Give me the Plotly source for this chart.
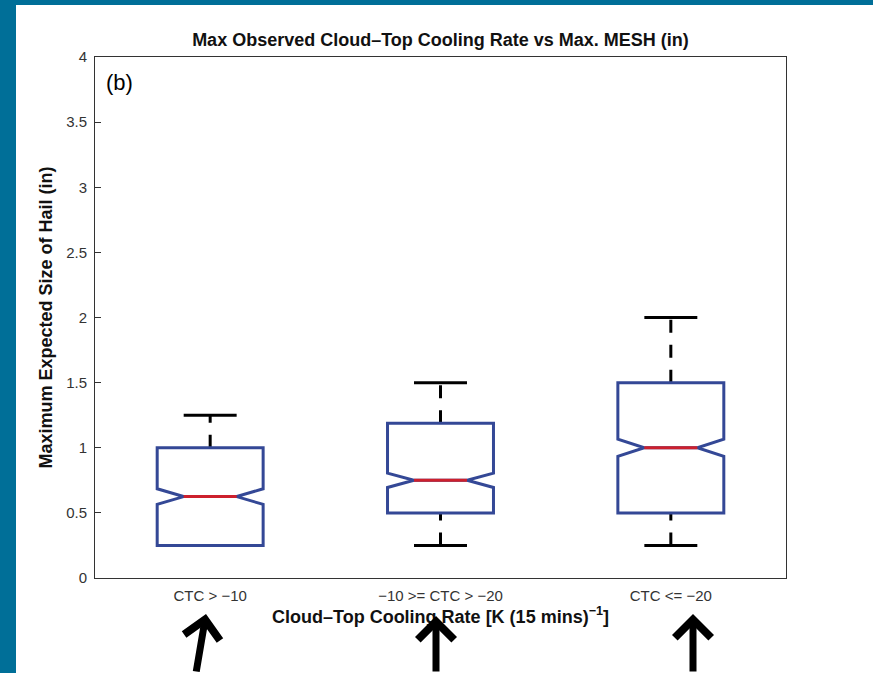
import plotly.graph_objects as go

# ---- data ----
categories = ["CTC > \u221210", "\u221210 >= CTC > \u221220", "CTC <= \u221220"]
positions = [1, 2, 3]
q1 = [0.25, 0.5, 0.5]
median = [0.625, 0.75, 1.0]
q3 = [1.0, 1.1875, 1.5]
lower_whisker = [0.25, 0.25, 0.25]
upper_whisker = [1.25, 1.5, 2.0]
notch_span = [0.06, 0.055, 0.066]
y_ticks = [0, 0.5, 1, 1.5, 2, 2.5, 3, 3.5, 4]

# ---- styling ----
BOX_BLUE = "rgb(52,72,150)"
MED_RED = "rgb(205,32,45)"
TEAL = "rgb(0,111,152)"
BOX_W = 0.46
CAP_HALF = BOX_W / 4
INNER_HALF = BOX_W / 4
FONT = "Liberation Sans, Arial, Helvetica, sans-serif"

fig = go.Figure()

# whiskers (dashed) -- drawn first (under the boxes)
wx, wy = [], []
for p, lo, a, b, hi in zip(positions, lower_whisker, q1, q3, upper_whisker):
    wx += [p, p, None, p, p, None]
    wy += [b, hi, None, lo, a, None]
fig.add_trace(go.Scatter(x=wx, y=wy, mode="lines", hoverinfo="skip",
                         line=dict(color="black", width=3, dash="13px,12px"),
                         showlegend=False, xaxis="x", yaxis="y"))

# whisker caps
cx, cy = [], []
for p, lo, hi in zip(positions, lower_whisker, upper_whisker):
    cx += [p - CAP_HALF, p + CAP_HALF, None, p - CAP_HALF, p + CAP_HALF, None]
    cy += [hi, hi, None, lo, lo, None]
fig.add_trace(go.Scatter(x=cx, y=cy, mode="lines", hoverinfo="skip",
                         line=dict(color="black", width=3),
                         showlegend=False, xaxis="x", yaxis="y"))

# notched boxes (on overlay axes so they sit above the whiskers)
fig.add_trace(go.Box(
    x=positions, q1=q1, median=median, q3=q3,
    lowerfence=q1, upperfence=q3, notchspan=notch_span,
    notched=True, notchwidth=0.25, width=BOX_W, whiskerwidth=0,
    fillcolor="rgba(0,0,0,0)", line=dict(color=BOX_BLUE, width=3),
    showlegend=False, xaxis="x2", yaxis="y2", hoverinfo="skip"))

# red median lines
mx, my = [], []
for p, m in zip(positions, median):
    mx += [p - INNER_HALF, p + INNER_HALF, None]
    my += [m, m, None]
fig.add_trace(go.Scatter(x=mx, y=my, mode="lines", hoverinfo="skip",
                         line=dict(color=MED_RED, width=3),
                         showlegend=False, xaxis="x2", yaxis="y2"))

L, R, T, B = 95, 87, 57, 95
W, H = 873, 673
pw, ph = W - L - R, H - T - B

def px(xp):
    return (xp - L) / pw

def py(yp):
    return (H - B - yp) / ph

shapes = [
    dict(type="rect", xref="paper", yref="paper", x0=px(-5), x1=px(16),
         y0=py(H + 5), y1=py(-5), fillcolor=TEAL, line=dict(width=0), layer="below"),
    dict(type="rect", xref="paper", yref="paper", x0=px(-5), x1=px(W + 5),
         y0=py(5), y1=py(-5), fillcolor=TEAL, line=dict(width=0), layer="below"),
]

annotations = [
    dict(text="(b)", xref="paper", yref="paper", x=px(104), y=py(82),
         xanchor="left", yanchor="middle", showarrow=False,
         font=dict(size=22, color="black", family=FONT)),
]
for tip_x, tip_y, ax in [(206, 614, -10), (436, 616, 0), (693, 614, 0)]:
    annotations.append(dict(text="", xref="paper", yref="paper",
                            x=px(tip_x), y=py(tip_y), ax=ax, ay=80,
                            showarrow=True, arrowhead=4, arrowwidth=7,
                            arrowsize=1.0, arrowcolor="black"))

axis_common = dict(showgrid=False, zeroline=False, showline=True,
                   linecolor="#333", linewidth=1, mirror=True)

fig.update_layout(
    width=W, height=H,
    margin=dict(l=L, r=R, t=T, b=B),
    paper_bgcolor="white", plot_bgcolor="white",
    font=dict(family=FONT, color="#222"),
    title=dict(text="<b>Max Observed Cloud\u2013Top Cooling Rate vs Max. MESH (in)</b>",
               xref="paper", x=0.5, xanchor="center",
               yref="container", y=1 - 40 / H, yanchor="middle",
               font=dict(size=18, color="#111", family=FONT)),
    xaxis=dict(range=[0.5, 3.5], tickvals=positions, ticktext=categories,
               ticks="", ticklabelstandoff=4,
               tickfont=dict(size=15, color="#333", family=FONT),
               title=dict(text="<b>Cloud\u2013Top Cooling Rate [K (15 mins)<sup>\u22121</sup>]</b>",
                          standoff=0, font=dict(size=18, color="#111", family=FONT)),
               **axis_common),
    yaxis=dict(range=[0, 4], tickvals=y_ticks, ticks="inside", ticklen=6,
               tickcolor="#333", ticklabelstandoff=4,
               tickfont=dict(size=15, color="#333", family=FONT),
               title=dict(text="<b>Maximum Expected Size of Hail (in)</b>",
                          standoff=8, font=dict(size=18, color="#111", family=FONT)),
               **axis_common),
    xaxis2=dict(range=[0.5, 3.5], overlaying="x", visible=False),
    yaxis2=dict(range=[0, 4], overlaying="y", visible=False),
    shapes=shapes,
    annotations=annotations,
)

fig.write_html("out.html",
               config={"displayModeBar": False},
               post_script="document.body.style.margin='0';"
                           "document.documentElement.style.overflow='hidden';")
